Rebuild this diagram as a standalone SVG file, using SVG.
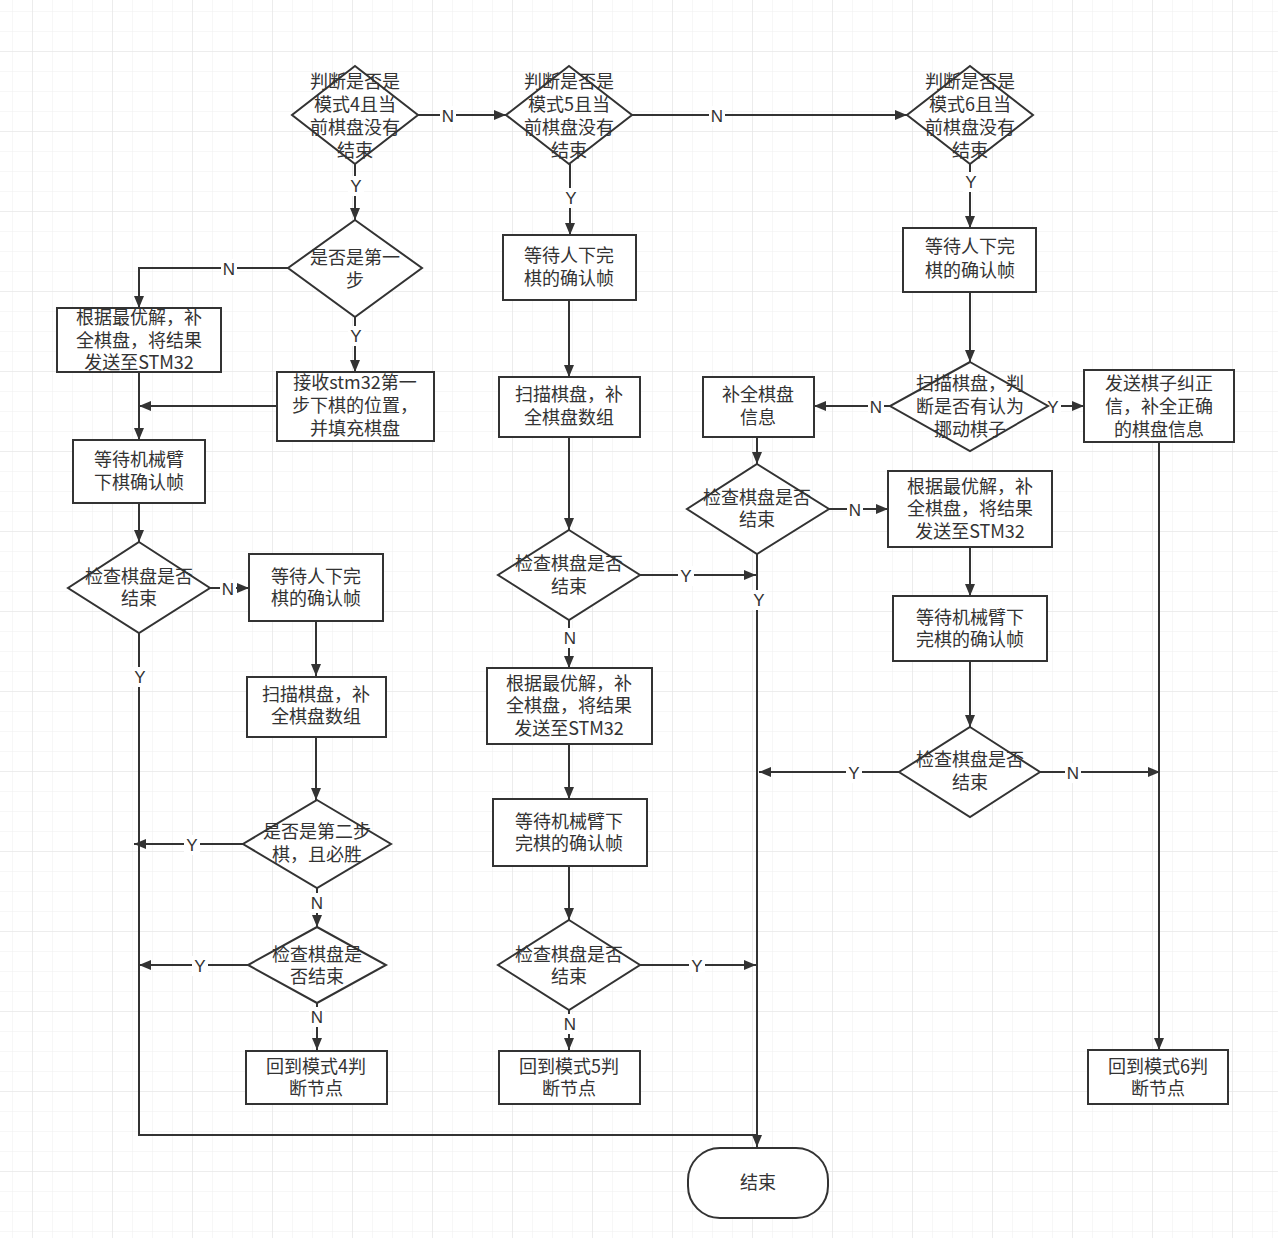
<svg xmlns="http://www.w3.org/2000/svg" width="1278" height="1238" viewBox="0 0 1278 1238">
<style>
.n{fill:#fff;stroke:#333;stroke-width:2}
.t{font-family:"Noto Sans CJK SC","Liberation Sans",sans-serif;font-size:18px;fill:#333;text-anchor:middle}
.c path{fill:none;stroke:#333;stroke-width:2}
.lb rect{fill:#fff}
.lb text{font-family:"Liberation Sans","Noto Sans CJK SC",sans-serif;font-size:17px;fill:#333;text-anchor:middle}
</style>
<defs>
<pattern id="gm" width="20" height="20" patternUnits="userSpaceOnUse" x="13" y="12">
<path d="M20,0 V20 M0,20 H20" fill="none" stroke="#efefef" stroke-width="1"/>
</pattern>
<pattern id="gM" width="80" height="80" patternUnits="userSpaceOnUse" x="33" y="52">
<path d="M80,0 V80 M0,80 H80" fill="none" stroke="#e4e4e4" stroke-width="1.2"/>
</pattern>
<marker id="a" viewBox="0 0 12 10" refX="12" refY="5" markerWidth="12" markerHeight="10" markerUnits="userSpaceOnUse" orient="auto">
<path d="M0,0 L12,5 L0,10 z" fill="#333"/>
</marker>
</defs>
<rect width="1278" height="1238" fill="#fff"/>
<rect width="1278" height="1238" fill="url(#gm)"/>
<rect width="1278" height="1238" fill="url(#gM)"/>

<g id="connectors" class="c">
<path d="M418,115 H506" marker-end="url(#a)"/>
<path d="M632,115 H907" marker-end="url(#a)"/>
<path d="M355,164 V220" marker-end="url(#a)"/>
<path d="M288,268 H139 V308" marker-end="url(#a)"/>
<path d="M355,317 V372" marker-end="url(#a)"/>
<path d="M277,406 H139" marker-end="url(#a)"/>
<path d="M139,372 V440" marker-end="url(#a)"/>
<path d="M139,503 V542" marker-end="url(#a)"/>
<path d="M210,588 H249" marker-end="url(#a)"/>
<path d="M316,621 V676" marker-end="url(#a)"/>
<path d="M139,633 V1135 H757"/>
<path d="M316,737 V800" marker-end="url(#a)"/>
<path d="M243,844 H134" marker-end="url(#a)"/>
<path d="M317,888 V927" marker-end="url(#a)"/>
<path d="M248,965 H139" marker-end="url(#a)"/>
<path d="M317,1003 V1050" marker-end="url(#a)"/>
<path d="M570,164 V235" marker-end="url(#a)"/>
<path d="M569,300 V377" marker-end="url(#a)"/>
<path d="M569,437 V530" marker-end="url(#a)"/>
<path d="M640,575 H756" marker-end="url(#a)"/>
<path d="M569,620 V668" marker-end="url(#a)"/>
<path d="M569,744 V799" marker-end="url(#a)"/>
<path d="M569,866 V920" marker-end="url(#a)"/>
<path d="M640,965 H756" marker-end="url(#a)"/>
<path d="M569,1010 V1050" marker-end="url(#a)"/>
<path d="M970,164 V228" marker-end="url(#a)"/>
<path d="M970,292 V362" marker-end="url(#a)"/>
<path d="M890,406 H814" marker-end="url(#a)"/>
<path d="M1048,406 H1084" marker-end="url(#a)"/>
<path d="M757,437 V464" marker-end="url(#a)"/>
<path d="M829,509 H888" marker-end="url(#a)"/>
<path d="M757,554 V1147" marker-end="url(#a)"/>
<path d="M970,547 V596" marker-end="url(#a)"/>
<path d="M970,661 V727" marker-end="url(#a)"/>
<path d="M899,772 H759" marker-end="url(#a)"/>
<path d="M1040,772 H1160" marker-end="url(#a)"/>
<path d="M1159,442 V1050" marker-end="url(#a)"/>
</g>

<g id="labels" class="lb">
<rect x="440" y="106" width="16" height="20"/><text x="448" y="122">N</text>
<rect x="709" y="106" width="16" height="20"/><text x="717" y="122">N</text>
<rect x="348" y="176" width="16" height="20"/><text x="356" y="192">Y</text>
<rect x="221" y="259" width="16" height="20"/><text x="229" y="275">N</text>
<rect x="348" y="326" width="16" height="20"/><text x="356" y="342">Y</text>
<rect x="220" y="579" width="16" height="20"/><text x="228" y="595">N</text>
<rect x="132" y="667" width="16" height="20"/><text x="140" y="683">Y</text>
<rect x="184" y="835" width="16" height="20"/><text x="192" y="851">Y</text>
<rect x="309" y="893" width="16" height="20"/><text x="317" y="909">N</text>
<rect x="192" y="956" width="16" height="20"/><text x="200" y="972">Y</text>
<rect x="309" y="1007" width="16" height="20"/><text x="317" y="1023">N</text>
<rect x="563" y="188" width="16" height="20"/><text x="571" y="204">Y</text>
<rect x="678" y="566" width="16" height="20"/><text x="686" y="582">Y</text>
<rect x="562" y="628" width="16" height="20"/><text x="570" y="644">N</text>
<rect x="689" y="956" width="16" height="20"/><text x="697" y="972">Y</text>
<rect x="562" y="1014" width="16" height="20"/><text x="570" y="1030">N</text>
<rect x="963" y="172" width="16" height="20"/><text x="971" y="188">Y</text>
<rect x="868" y="397" width="16" height="20"/><text x="876" y="413">N</text>
<rect x="1045" y="397" width="16" height="20"/><text x="1053" y="413">Y</text>
<rect x="847" y="500" width="16" height="20"/><text x="855" y="516">N</text>
<rect x="751" y="590" width="16" height="20"/><text x="759" y="606">Y</text>
<rect x="846" y="763" width="16" height="20"/><text x="854" y="779">Y</text>
<rect x="1065" y="763" width="16" height="20"/><text x="1073" y="779">N</text>
</g>

<g id="d1"><path class="n" d="M355,66 L418,115 L355,164 L292,115 Z"/>
<text class="t"><tspan x="355" y="88">判断是否是</tspan><tspan x="355" y="111">模式4且当</tspan><tspan x="355" y="134">前棋盘没有</tspan><tspan x="355" y="157">结束</tspan></text></g>
<g id="d2"><path class="n" d="M569,66 L632,115 L569,164 L506,115 Z"/>
<text class="t"><tspan x="569" y="88">判断是否是</tspan><tspan x="569" y="111">模式5且当</tspan><tspan x="569" y="134">前棋盘没有</tspan><tspan x="569" y="157">结束</tspan></text></g>
<g id="d3"><path class="n" d="M970,66 L1033,115 L970,164 L907,115 Z"/>
<text class="t"><tspan x="970" y="88">判断是否是</tspan><tspan x="970" y="111">模式6且当</tspan><tspan x="970" y="134">前棋盘没有</tspan><tspan x="970" y="157">结束</tspan></text></g>

<g id="d4"><path class="n" d="M355,220 L422,268 L355,317 L288,268 Z"/>
<text class="t"><tspan x="355" y="264">是否是第一</tspan><tspan x="355" y="287">步</tspan></text></g>
<g id="b1"><rect class="n" x="57" y="308" width="164" height="64"/>
<text class="t"><tspan x="139" y="324">根据最优解，补</tspan><tspan x="139" y="347">全棋盘，将结果</tspan><tspan x="139" y="369">发送至STM32</tspan></text></g>
<g id="b2"><rect class="n" x="277" y="372" width="157" height="69"/>
<text class="t"><tspan x="355" y="389">接收stm32第一</tspan><tspan x="355" y="412">步下棋的位置，</tspan><tspan x="355" y="435">并填充棋盘</tspan></text></g>
<g id="b3"><rect class="n" x="73" y="440" width="132" height="63"/>
<text class="t"><tspan x="139" y="466">等待机械臂</tspan><tspan x="139" y="489">下棋确认帧</tspan></text></g>
<g id="d5"><path class="n" d="M139,542 L210,588 L139,633 L68,588 Z"/>
<text class="t"><tspan x="139" y="583">检查棋盘是否</tspan><tspan x="139" y="605">结束</tspan></text></g>
<g id="b4"><rect class="n" x="249" y="554" width="134" height="67"/>
<text class="t"><tspan x="316" y="583">等待人下完</tspan><tspan x="316" y="605">棋的确认帧</tspan></text></g>
<g id="b5"><rect class="n" x="247" y="677" width="139" height="60"/>
<text class="t"><tspan x="316" y="701">扫描棋盘，补</tspan><tspan x="316" y="723">全棋盘数组</tspan></text></g>
<g id="d6"><path class="n" d="M317,800 L391,844 L317,888 L243,844 Z"/>
<text class="t"><tspan x="317" y="838">是否是第二步</tspan><tspan x="317" y="861">棋，且必胜</tspan></text></g>
<g id="d7"><path class="n" d="M317,927 L386,965 L317,1003 L248,965 Z"/>
<text class="t"><tspan x="317" y="961">检查棋盘是</tspan><tspan x="317" y="983">否结束</tspan></text></g>
<g id="b6"><rect class="n" x="246" y="1051" width="141" height="53"/>
<text class="t"><tspan x="316" y="1073">回到模式4判</tspan><tspan x="316" y="1095">断节点</tspan></text></g>

<g id="b7"><rect class="n" x="503" y="235" width="133" height="65"/>
<text class="t"><tspan x="569" y="262">等待人下完</tspan><tspan x="569" y="285">棋的确认帧</tspan></text></g>
<g id="b8"><rect class="n" x="499" y="377" width="141" height="60"/>
<text class="t"><tspan x="569" y="401">扫描棋盘，补</tspan><tspan x="569" y="424">全棋盘数组</tspan></text></g>
<g id="d8"><path class="n" d="M569,530 L640,575 L569,620 L498,575 Z"/>
<text class="t"><tspan x="569" y="570">检查棋盘是否</tspan><tspan x="569" y="593">结束</tspan></text></g>
<g id="b9"><rect class="n" x="487" y="668" width="165" height="76"/>
<text class="t"><tspan x="569" y="690">根据最优解，补</tspan><tspan x="569" y="712">全棋盘，将结果</tspan><tspan x="569" y="735">发送至STM32</tspan></text></g>
<g id="b10"><rect class="n" x="493" y="799" width="154" height="67"/>
<text class="t"><tspan x="569" y="828">等待机械臂下</tspan><tspan x="569" y="850">完棋的确认帧</tspan></text></g>
<g id="d9"><path class="n" d="M569,920 L640,965 L569,1010 L498,965 Z"/>
<text class="t"><tspan x="569" y="961">检查棋盘是否</tspan><tspan x="569" y="983">结束</tspan></text></g>
<g id="b11"><rect class="n" x="499" y="1051" width="141" height="53"/>
<text class="t"><tspan x="569" y="1073">回到模式5判</tspan><tspan x="569" y="1095">断节点</tspan></text></g>

<g id="b12"><rect class="n" x="903" y="228" width="133" height="64"/>
<text class="t"><tspan x="970" y="253">等待人下完</tspan><tspan x="970" y="277">棋的确认帧</tspan></text></g>
<g id="d10"><path class="n" d="M970,362 L1048,406 L970,451 L890,406 Z"/>
<text class="t"><tspan x="970" y="390">扫描棋盘，判</tspan><tspan x="970" y="413">断是否有认为</tspan><tspan x="970" y="436">挪动棋子</tspan></text></g>
<g id="b13"><rect class="n" x="703" y="377" width="111" height="60"/>
<text class="t"><tspan x="758" y="401">补全棋盘</tspan><tspan x="758" y="424">信息</tspan></text></g>
<g id="b14"><rect class="n" x="1084" y="370" width="150" height="72"/>
<text class="t"><tspan x="1159" y="390">发送棋子纠正</tspan><tspan x="1159" y="413">信，补全正确</tspan><tspan x="1159" y="436">的棋盘信息</tspan></text></g>
<g id="d11"><path class="n" d="M757,464 L829,509 L757,554 L687,509 Z"/>
<text class="t"><tspan x="757" y="504">检查棋盘是否</tspan><tspan x="757" y="526">结束</tspan></text></g>
<g id="b15"><rect class="n" x="888" y="471" width="164" height="76"/>
<text class="t"><tspan x="970" y="493">根据最优解，补</tspan><tspan x="970" y="515">全棋盘，将结果</tspan><tspan x="970" y="538">发送至STM32</tspan></text></g>
<g id="b16"><rect class="n" x="893" y="596" width="154" height="65"/>
<text class="t"><tspan x="970" y="624">等待机械臂下</tspan><tspan x="970" y="646">完棋的确认帧</tspan></text></g>
<g id="d12"><path class="n" d="M970,727 L1040,772 L970,817 L899,772 Z"/>
<text class="t"><tspan x="970" y="766">检查棋盘是否</tspan><tspan x="970" y="789">结束</tspan></text></g>
<g id="b17"><rect class="n" x="1088" y="1050" width="140" height="54"/>
<text class="t"><tspan x="1158" y="1073">回到模式6判</tspan><tspan x="1158" y="1095">断节点</tspan></text></g>

<g id="end"><rect class="n" x="688" y="1148" width="140" height="70" rx="32" ry="32"/>
<text class="t"><tspan x="758" y="1189">结束</tspan></text></g>
</svg>
